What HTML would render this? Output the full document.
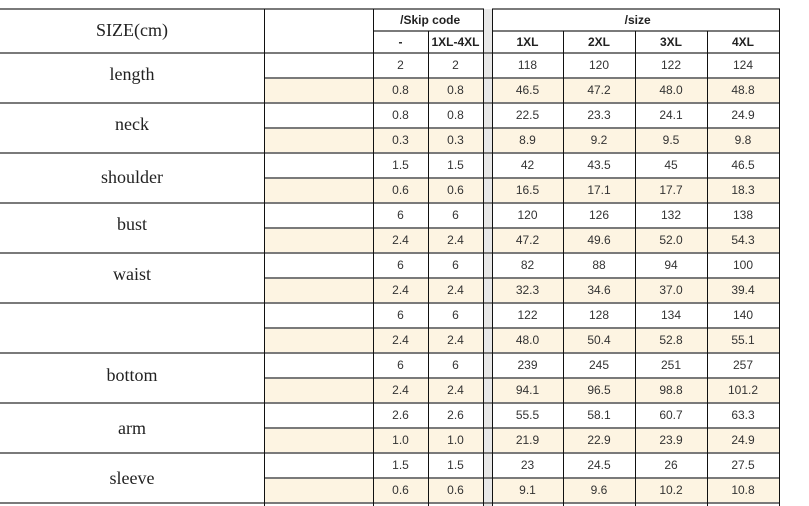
<!DOCTYPE html>
<html><head><meta charset="utf-8"><style>
*{margin:0;padding:0;box-sizing:border-box}
body{width:809px;height:506px;background:#fff;position:relative;overflow:hidden;font-family:"Liberation Sans",sans-serif}
.h{position:absolute;height:2px;background:#7a7a7a}
.v{position:absolute;width:1px;background:#111}
.cream{position:absolute;background:#fdf4e2;height:23px}
.lab{position:absolute;left:0;width:264px;text-align:center;font-family:"Liberation Serif",serif;font-size:18px;color:#222}
.sub{position:absolute;left:373px;display:flex;height:25px;line-height:25px;font-size:12px;color:#333}
.sub span{display:block;text-align:center}
.sub span:nth-child(1),.sub span:nth-child(2){width:55px}
.sub span:nth-child(3){width:9px}
.sub span:nth-child(4){width:71px}
.sub span:nth-child(5),.sub span:nth-child(6),.sub span:nth-child(7){width:72px}
.hd{position:absolute;font-size:12px;font-weight:bold;color:#222;text-align:center;line-height:22px}
.gap{position:absolute;left:484px;width:8px;top:9px;height:497px;background:#e8e8e8}
</style></head><body>
<div class="gap"></div>
<!-- cream fills -->
<div class="cream" style="left:265px;width:219px;top:79px"></div><div class="cream" style="left:493px;width:286px;top:79px"></div>
<div class="cream" style="left:265px;width:219px;top:129px"></div><div class="cream" style="left:493px;width:286px;top:129px"></div>
<div class="cream" style="left:265px;width:219px;top:179px"></div><div class="cream" style="left:493px;width:286px;top:179px"></div>
<div class="cream" style="left:265px;width:219px;top:229px"></div><div class="cream" style="left:493px;width:286px;top:229px"></div>
<div class="cream" style="left:265px;width:219px;top:279px"></div><div class="cream" style="left:493px;width:286px;top:279px"></div>
<div class="cream" style="left:265px;width:219px;top:329px"></div><div class="cream" style="left:493px;width:286px;top:329px"></div>
<div class="cream" style="left:265px;width:219px;top:379px"></div><div class="cream" style="left:493px;width:286px;top:379px"></div>
<div class="cream" style="left:265px;width:219px;top:429px"></div><div class="cream" style="left:493px;width:286px;top:429px"></div>
<div class="cream" style="left:265px;width:219px;top:479px"></div><div class="cream" style="left:493px;width:286px;top:479px"></div>
<!-- horizontal lines -->
<div class="h" style="left:0;width:484px;top:8px"></div><div class="h" style="left:492px;width:288px;top:8px"></div>
<div class="h" style="left:373px;width:111px;top:30px"></div><div class="h" style="left:492px;width:288px;top:30px"></div>
<div class="h" style="left:0;width:780px;top:52px"></div>
<div class="h" style="left:264px;width:516px;top:77px"></div>
<div class="h" style="left:0;width:780px;top:102px"></div>
<div class="h" style="left:264px;width:516px;top:127px"></div>
<div class="h" style="left:0;width:780px;top:152px"></div>
<div class="h" style="left:264px;width:516px;top:177px"></div>
<div class="h" style="left:0;width:780px;top:202px"></div>
<div class="h" style="left:264px;width:516px;top:227px"></div>
<div class="h" style="left:0;width:780px;top:252px"></div>
<div class="h" style="left:264px;width:516px;top:277px"></div>
<div class="h" style="left:0;width:780px;top:302px"></div>
<div class="h" style="left:264px;width:516px;top:327px"></div>
<div class="h" style="left:0;width:780px;top:352px"></div>
<div class="h" style="left:264px;width:516px;top:377px"></div>
<div class="h" style="left:0;width:780px;top:402px"></div>
<div class="h" style="left:264px;width:516px;top:427px"></div>
<div class="h" style="left:0;width:780px;top:452px"></div>
<div class="h" style="left:264px;width:516px;top:477px"></div>
<div class="h" style="left:0;width:780px;top:502px"></div>
<!-- vertical lines -->
<div class="v" style="left:264px;top:9px;height:497px"></div>
<div class="v" style="left:373px;top:9px;height:497px"></div>
<div class="v" style="left:428px;top:31px;height:475px"></div>
<div class="v" style="left:483px;top:9px;height:497px"></div>
<div class="v" style="left:492px;top:9px;height:497px"></div>
<div class="v" style="left:563px;top:31px;height:475px"></div>
<div class="v" style="left:635px;top:31px;height:475px"></div>
<div class="v" style="left:707px;top:31px;height:475px"></div>
<div class="v" style="left:779px;top:9px;height:497px"></div>
<!-- headers -->
<div class="lab" style="top:20px">SIZE(cm)</div>
<div class="hd" style="left:373px;width:111px;top:9px">&nbsp;/Skip code</div>
<div class="hd" style="left:373px;width:55px;top:31px">-</div>
<div class="hd" style="left:428px;width:55px;top:31px">1XL-4XL</div>
<div class="hd" style="left:492px;width:288px;top:9px">&nbsp;/size</div>
<div class="hd" style="left:492px;width:71px;top:31px">1XL</div>
<div class="hd" style="left:563px;width:72px;top:31px">2XL</div>
<div class="hd" style="left:635px;width:72px;top:31px">3XL</div>
<div class="hd" style="left:707px;width:72px;top:31px">4XL</div>
<!-- labels -->
<div class="lab" style="top:64px">length</div>
<div class="lab" style="top:114px">neck</div>
<div class="lab" style="top:167px">shoulder</div>
<div class="lab" style="top:214px">bust</div>
<div class="lab" style="top:264px">waist</div>
<div class="lab" style="top:365px">bottom</div>
<div class="lab" style="top:418px">arm</div>
<div class="lab" style="top:468px">sleeve</div>
<!-- data -->
<div class="sub" style="top:53px"><span>2</span><span>2</span><span></span><span>118</span><span>120</span><span>122</span><span>124</span></div>
<div class="sub" style="top:78px"><span>0.8</span><span>0.8</span><span></span><span>46.5</span><span>47.2</span><span>48.0</span><span>48.8</span></div>
<div class="sub" style="top:103px"><span>0.8</span><span>0.8</span><span></span><span>22.5</span><span>23.3</span><span>24.1</span><span>24.9</span></div>
<div class="sub" style="top:128px"><span>0.3</span><span>0.3</span><span></span><span>8.9</span><span>9.2</span><span>9.5</span><span>9.8</span></div>
<div class="sub" style="top:153px"><span>1.5</span><span>1.5</span><span></span><span>42</span><span>43.5</span><span>45</span><span>46.5</span></div>
<div class="sub" style="top:178px"><span>0.6</span><span>0.6</span><span></span><span>16.5</span><span>17.1</span><span>17.7</span><span>18.3</span></div>
<div class="sub" style="top:203px"><span>6</span><span>6</span><span></span><span>120</span><span>126</span><span>132</span><span>138</span></div>
<div class="sub" style="top:228px"><span>2.4</span><span>2.4</span><span></span><span>47.2</span><span>49.6</span><span>52.0</span><span>54.3</span></div>
<div class="sub" style="top:253px"><span>6</span><span>6</span><span></span><span>82</span><span>88</span><span>94</span><span>100</span></div>
<div class="sub" style="top:278px"><span>2.4</span><span>2.4</span><span></span><span>32.3</span><span>34.6</span><span>37.0</span><span>39.4</span></div>
<div class="sub" style="top:303px"><span>6</span><span>6</span><span></span><span>122</span><span>128</span><span>134</span><span>140</span></div>
<div class="sub" style="top:328px"><span>2.4</span><span>2.4</span><span></span><span>48.0</span><span>50.4</span><span>52.8</span><span>55.1</span></div>
<div class="sub" style="top:353px"><span>6</span><span>6</span><span></span><span>239</span><span>245</span><span>251</span><span>257</span></div>
<div class="sub" style="top:378px"><span>2.4</span><span>2.4</span><span></span><span>94.1</span><span>96.5</span><span>98.8</span><span>101.2</span></div>
<div class="sub" style="top:403px"><span>2.6</span><span>2.6</span><span></span><span>55.5</span><span>58.1</span><span>60.7</span><span>63.3</span></div>
<div class="sub" style="top:428px"><span>1.0</span><span>1.0</span><span></span><span>21.9</span><span>22.9</span><span>23.9</span><span>24.9</span></div>
<div class="sub" style="top:453px"><span>1.5</span><span>1.5</span><span></span><span>23</span><span>24.5</span><span>26</span><span>27.5</span></div>
<div class="sub" style="top:478px"><span>0.6</span><span>0.6</span><span></span><span>9.1</span><span>9.6</span><span>10.2</span><span>10.8</span></div>
</body></html>
